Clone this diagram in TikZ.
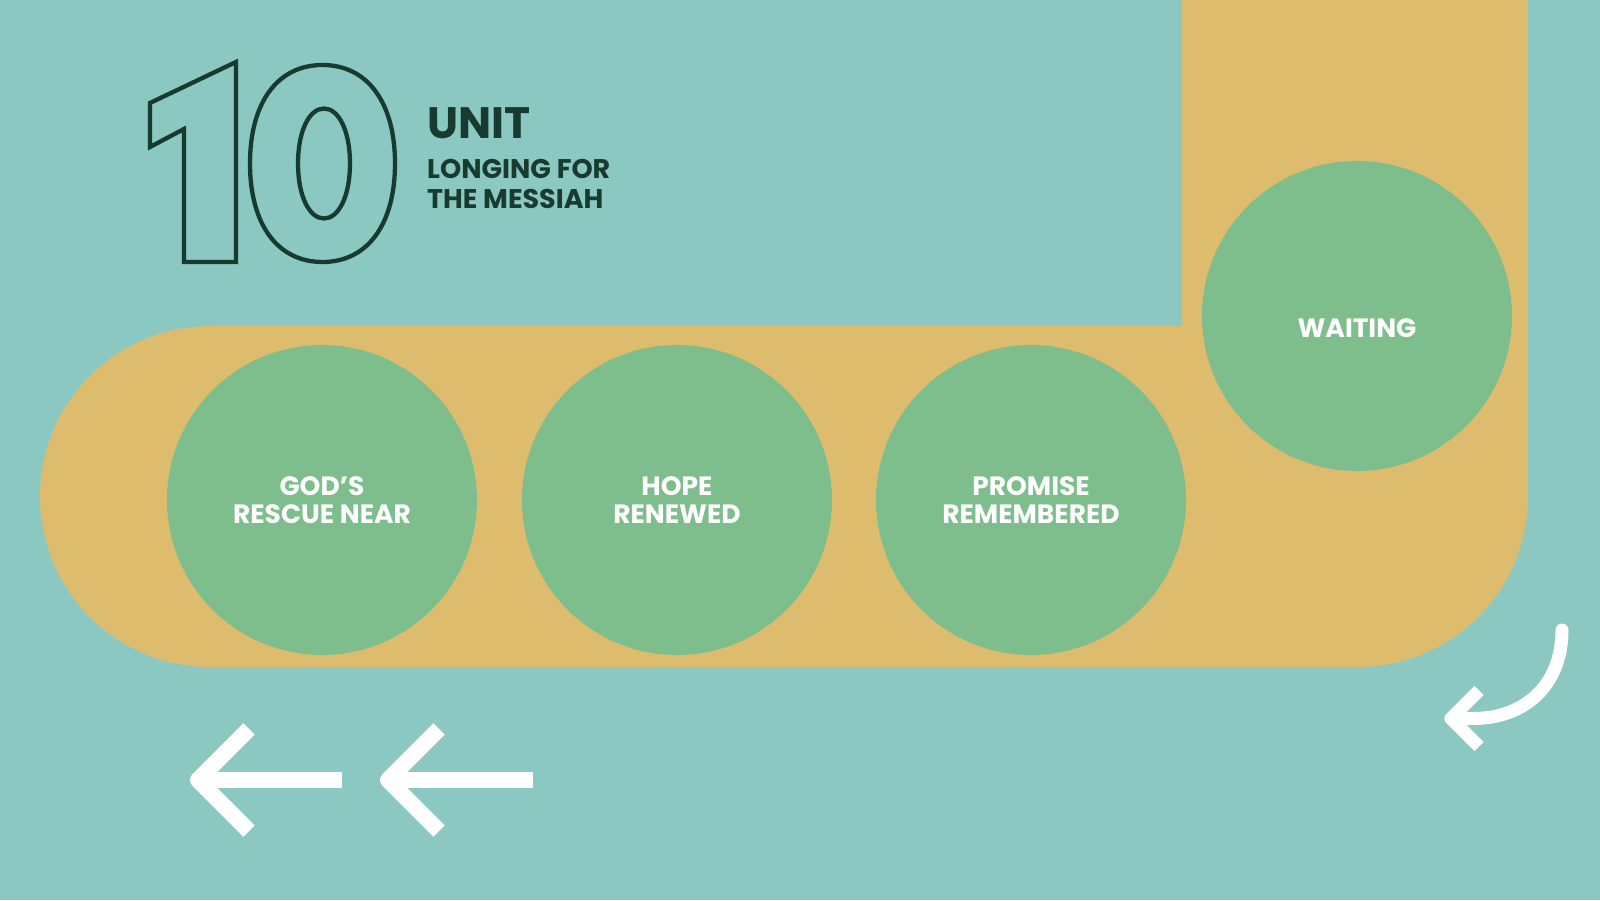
\documentclass[tikz,border=0pt]{standalone}
\usepackage{fontspec}
\newfontfamily\pop{Poppins}
\definecolor{bgteal}{HTML}{8BC8C2}
\definecolor{bandgold}{HTML}{DDBD6D}
\definecolor{circgreen}{HTML}{7EBE8C}
\definecolor{darkgreen}{HTML}{173B2F}
\tikzset{
  band/.style={fill=bandgold},
  stepcirc/.style={circle, fill=circgreen, minimum size=310pt, inner sep=0pt,
    text=white, align=center, font=\pop\bfseries\fontsize{26.5}{27.5}\selectfont},
  circlabel/.style={inner sep=0pt, text=white, align=center,
    font=\pop\bfseries\fontsize{26.5}{27.5}\selectfont},
  outline/.style={draw=darkgreen, line width=4.3pt, line join=miter},
  titletext/.style={anchor=base west, inner sep=0pt, text=darkgreen},
  straightarrow/.style={draw=white, line width=16pt, line join=round, line cap=butt},
  curvedarrow/.style={draw=white, line width=13pt, line join=round, line cap=round},
}
\begin{document}
\begin{tikzpicture}[x=1pt,y=1pt]
\fill[bgteal] (0,0) rectangle (1600,900);
\useasboundingbox (0,0) rectangle (1600,900);

% band
\fill[band, rounded corners=170.5pt] (40,233) rectangle (1528,574);
\fill[band] (1182,400) rectangle (1528,900);

% circles
\node[stepcirc] (c1) at (322,400) {GOD’S\\RESCUE NEAR};
\node[stepcirc] (c2) at (677,400) {HOPE\\RENEWED};
\node[stepcirc] (c3) at (1031,400) {PROMISE\\REMEMBERED};
\node[stepcirc] (c4) at (1357,584) {};
\node[circlabel] (t4) at ([yshift=-12pt]c4.center) {WAITING};

% big outlined "10"
\draw[outline] (236,838) -- (150,797) -- (150,753) -- (184,771) -- (184,638) -- (236,638) -- cycle;
\draw[outline] (395,736.5) .. controls (395,797.5) and (367.5,835) .. (322.5,835)
  .. controls (277.5,835) and (250,797.5) .. (250,736.5)
  .. controls (250,675.5) and (277.5,638) .. (322.5,638)
  .. controls (367.5,638) and (395,675.5) .. (395,736.5) -- cycle;
\draw[outline] (350,736.5) .. controls (350,768.5) and (339,791.5) .. (324,791.5)
  .. controls (309,791.5) and (298,768.5) .. (298,736.5)
  .. controls (298,704.5) and (309,681.5) .. (324,681.5)
  .. controls (339,681.5) and (350,704.5) .. (350,736.5) -- cycle;

% title text
\node[titletext, font=\pop\bfseries\fontsize{44}{44}\selectfont] (unit) at (427,761) {UNIT};
\node[titletext, font=\pop\bfseries\fontsize{27}{27}\selectfont] (sub1) at (427,721) {LONGING FOR};
\node[titletext, font=\pop\bfseries\fontsize{27}{27}\selectfont] (sub2) at (427,691) {THE MESSIAH};

% straight arrows
\coordinate (a1tip) at (198,120);
\coordinate (a1end) at (342,120);
\coordinate (a1up) at (249,171);
\coordinate (a1dn) at (249,69);
\draw[straightarrow] (a1end) -- (a1tip);
\draw[straightarrow] (a1up) -- (a1tip) -- (a1dn);

\coordinate (a2tip) at (388,120);
\coordinate (a2end) at (533,120);
\coordinate (a2up) at (439,171);
\coordinate (a2dn) at (439,69);
\draw[straightarrow] (a2end) -- (a2tip);
\draw[straightarrow] (a2up) -- (a2tip) -- (a2dn);

% curved arrow
\coordinate (cstart) at (1562,270);
\coordinate (cmid) at (1473,181.5);
\coordinate (ctip) at (1451,181.5);
\coordinate (cup) at (1479,209.5);
\coordinate (cdn) at (1479,153.5);
\draw[curvedarrow] (cstart) .. controls (1562,215) and (1525,181.5) .. (cmid) -- (ctip);
\draw[curvedarrow, line cap=butt] (cup) -- (ctip) -- (cdn);
\end{tikzpicture}
\end{document}
